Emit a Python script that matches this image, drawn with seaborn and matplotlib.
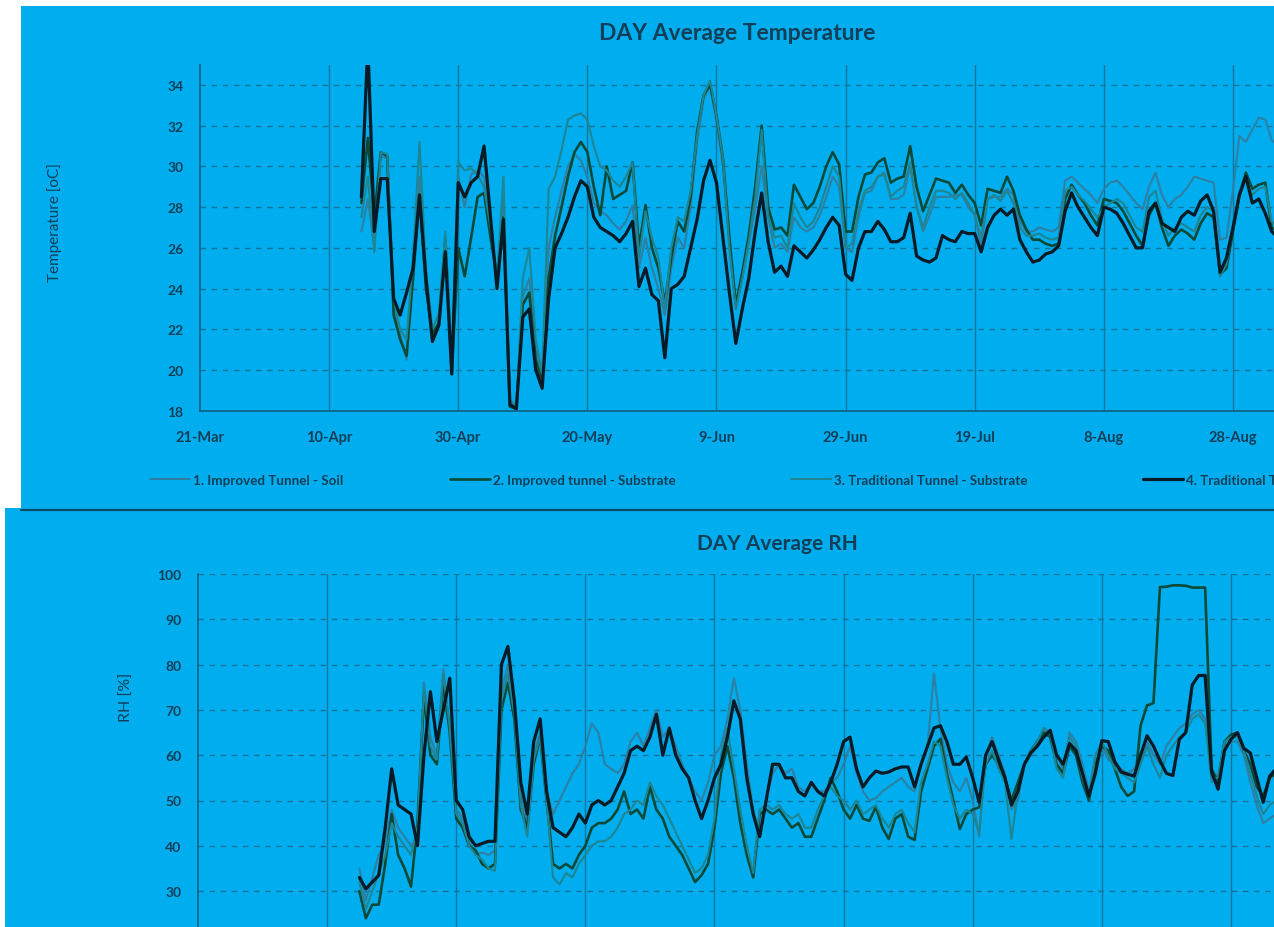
import numpy as np
import pandas as pd
import matplotlib
matplotlib.use("Agg")
import matplotlib.pyplot as plt
import matplotlib.dates as mdates
from matplotlib.patches import Rectangle
from matplotlib.lines import Line2D
from matplotlib.ticker import FuncFormatter
import seaborn as sns

# ---------------- data ----------------
series_names = [
    "1. Improved Tunnel - Soil",
    "2. Improved tunnel - Substrate",
    "3. Traditional Tunnel - Substrate",
    "4. Traditional Tunnel - Soil",
]
first_day = "2019-04-15"
tick_dates = ["2019-03-21", "2019-04-10", "2019-04-30", "2019-05-20", "2019-06-09",
              "2019-06-29", "2019-07-19", "2019-08-08", "2019-08-28"]

temp_improved_soil = [
    26.8, 28.4, 26.0, 30.5, 30.4, 23.0, 21.8, 20.5, 24.8, 29.5,
    24.3, 21.5, 22.4, 26.0, 20.2, 29.5, 28.0, 29.6, 29.8, 29.5,
    27.0, 24.2, 28.5, 18.4, 18.2, 23.6, 24.5, 21.0, 19.6, 26.0,
    27.5, 28.8, 30.0, 30.6, 30.3, 29.5, 28.2, 27.8, 27.6, 27.2,
    26.9, 27.3, 28.1, 25.0, 26.5, 25.0, 24.0, 22.7, 25.0, 26.5,
    26.0, 28.0, 31.2, 33.3, 34.0, 32.2, 30.0, 26.0, 23.0, 24.5,
    26.2, 28.0, 30.0, 27.5, 26.0, 26.2, 25.8, 27.5, 27.0, 26.8,
    27.0, 27.6, 28.5, 29.5, 29.0, 26.0, 25.8, 27.5, 28.7, 28.8,
    29.5, 29.7, 28.4, 28.4, 28.6, 30.0, 28.0, 26.8, 27.6, 28.5,
    28.5, 28.5, 28.6, 28.6, 28.0, 27.6, 26.1, 28.4, 28.5, 28.5,
    28.9, 28.6, 27.3, 26.8, 26.8, 27.0, 26.9, 26.8, 27.0, 29.3,
    29.5, 29.2, 28.9, 28.6, 28.2, 28.9, 29.2, 29.3, 29.0, 28.6,
    28.2, 27.9, 29.0, 29.7, 28.6, 28.0, 28.4, 28.6, 29.0, 29.5,
    29.4, 29.3, 29.2, 26.4, 26.5, 28.8, 31.5, 31.2, 31.8, 32.4,
    32.3, 31.3, 31.0,
]
temp_improved_substrate = [
    28.2, 31.4, 27.5, 30.7, 30.5, 22.7, 21.5, 20.7, 24.5, 28.5,
    24.0, 21.8, 22.3, 26.4, 19.9, 26.0, 24.6, 26.5, 28.5, 28.7,
    26.5, 24.6, 27.5, 18.2, 18.1, 23.2, 23.8, 20.5, 19.4, 24.5,
    26.6, 28.0, 29.5, 30.7, 31.2, 30.7, 29.0, 27.6, 30.0, 28.4,
    28.6, 28.8, 30.2, 26.0, 28.1, 26.0, 25.0, 23.3, 25.5, 27.3,
    26.8, 28.5, 31.7, 33.5, 34.0, 32.5, 30.4, 26.5, 23.2, 24.8,
    26.6, 29.0, 32.0, 28.0, 26.9, 27.0, 26.6, 29.1, 28.5, 27.9,
    28.2, 29.0, 30.0, 30.7, 30.1, 26.8, 26.8, 28.5, 29.6, 29.7,
    30.2, 30.4, 29.2, 29.4, 29.5, 31.0, 29.0, 27.8, 28.6, 29.4,
    29.3, 29.2, 28.7, 29.1, 28.6, 28.2, 27.1, 28.9, 28.8, 28.7,
    29.5, 28.8, 27.6, 26.9, 26.4, 26.4, 26.2, 26.1, 26.2, 28.4,
    29.1, 28.6, 28.2, 27.6, 27.1, 28.4, 28.3, 28.2, 27.8, 27.2,
    26.6, 26.1, 27.6, 28.2, 27.0, 26.1, 26.6, 26.9, 26.7, 26.4,
    27.2, 27.7, 27.5, 24.7, 25.0, 26.8, 28.6, 29.7, 28.9, 29.1,
    29.2, 27.0, 26.8,
]
temp_traditional_substrate = [
    27.5, 29.5, 25.8, 30.7, 30.6, 23.5, 22.0, 21.5, 25.5, 31.2,
    25.0, 22.0, 22.8, 26.8, 20.5, 30.2, 29.8, 29.9, 29.6, 29.0,
    27.0, 24.5, 29.5, 18.5, 18.3, 24.5, 26.0, 21.5, 19.8, 28.9,
    29.5, 30.8, 32.3, 32.5, 32.6, 32.3, 31.0, 30.0, 29.8, 29.3,
    29.0, 29.5, 30.2, 25.5, 27.8, 26.5, 25.5, 23.0, 26.0, 27.5,
    27.3, 28.8, 31.5, 33.5, 34.2, 32.5, 30.4, 26.0, 23.0, 24.5,
    26.3, 28.5, 31.8, 27.5, 26.5, 26.6, 26.0, 28.2, 27.5, 27.0,
    27.3, 28.0, 29.0, 30.0, 29.5, 26.0, 26.2, 27.8, 28.8, 29.0,
    29.5, 29.6, 28.5, 28.8, 29.0, 30.2, 28.0, 27.0, 28.0, 28.8,
    28.8, 28.7, 28.4, 28.7, 28.2, 27.6, 26.5, 28.4, 28.6, 28.3,
    28.8, 28.2, 27.0, 26.6, 26.6, 26.7, 26.5, 26.4, 26.5, 28.8,
    29.0, 28.6, 28.3, 27.9, 27.5, 28.0, 28.2, 28.4, 28.2, 27.6,
    27.0, 26.8, 28.5, 28.8, 27.4, 26.6, 27.0, 27.2, 27.0, 26.8,
    27.6, 28.0, 27.8, 24.6, 25.2, 27.0, 28.8, 29.4, 28.6, 28.9,
    29.0, 27.3, 27.0,
]
temp_traditional_soil = [
    28.5, 36.0, 26.8, 29.4, 29.4, 23.5, 22.7, 23.8, 25.0, 28.6,
    24.5, 21.4, 22.2, 25.8, 19.8, 29.2, 28.5, 29.2, 29.5, 31.0,
    27.5, 24.0, 27.4, 18.3, 18.1, 22.6, 23.0, 20.0, 19.1, 23.5,
    26.0, 26.7, 27.5, 28.5, 29.3, 29.0, 27.5, 27.0, 26.8, 26.6,
    26.3, 26.7, 27.3, 24.1, 25.0, 23.7, 23.4, 20.6, 24.0, 24.2,
    24.6, 26.0, 27.4, 29.3, 30.3, 29.2, 26.5, 23.8, 21.3, 23.0,
    24.5, 26.8, 28.7, 26.3, 24.8, 25.1, 24.6, 26.1, 25.8, 25.5,
    25.9, 26.4, 27.0, 27.5, 27.1, 24.7, 24.4, 26.0, 26.8, 26.8,
    27.3, 26.9, 26.3, 26.3, 26.5, 27.7, 25.6, 25.4, 25.3, 25.5,
    26.6, 26.4, 26.3, 26.8, 26.7, 26.7, 25.8, 27.0, 27.6, 27.9,
    27.6, 27.9, 26.4, 25.8, 25.3, 25.4, 25.7, 25.8, 26.1, 27.8,
    28.7, 28.0, 27.5, 27.0, 26.6, 28.0, 27.9, 27.7, 27.2, 26.6,
    26.0, 26.0, 27.8, 28.2, 27.2, 27.0, 26.8, 27.5, 27.8, 27.6,
    28.3, 28.6, 27.8, 24.8, 25.5, 27.0, 28.6, 29.5, 28.2, 28.4,
    27.7, 26.8, 26.5,
]

rh_improved_soil = [
    35, 28, 33, 38, 40, 48, 44, 42, 40, 42,
    76, 64, 60, 79, 66, 48, 46, 41, 38, 38.5,
    38, 39, 74, 80, 70, 50, 45, 60, 65, 52,
    47, 50, 53, 56, 58, 62, 67, 65, 58, 57,
    56, 58, 63, 65, 62, 66, 70, 64, 66, 62,
    58, 55, 52, 50, 54, 60, 62, 68, 77, 70,
    58, 48, 42, 50, 56, 58, 56, 57, 53, 52,
    54, 52, 52, 54, 55, 58, 62, 56, 52, 50,
    50.5, 52, 53, 54, 55, 53, 52, 58, 62, 78,
    66, 58, 54, 52, 55, 50, 42, 60, 64, 60,
    56, 48, 50, 58, 60, 62, 66, 64, 60, 57,
    65, 63, 58, 52, 60, 62, 59, 58, 57, 56,
    57, 59, 63, 60, 58, 62, 64, 66, 67, 69,
    70, 68, 54, 56, 62, 63, 63, 60, 54, 49,
    45, 46, 47,
]
rh_improved_substrate = [
    30, 24, 27, 27, 36, 47, 38, 35, 31, 45,
    73, 60, 58, 76, 65, 46, 44, 40, 39, 36,
    35, 36, 70, 76, 68, 48, 44, 58, 64, 50,
    36, 35, 36, 35, 38, 40, 44, 45, 45, 46,
    48, 52, 47, 48, 46, 53, 48, 46, 42, 40,
    38, 35, 32, 33.5, 36, 44, 56, 62, 55, 45,
    38, 33, 47, 48, 47, 48, 46, 44, 45, 42,
    42, 46, 50, 55, 52, 48, 46, 49, 46, 45.5,
    48.6, 44, 41.5, 46, 47, 42, 41.3, 52, 57, 62,
    63.6, 56, 50, 43.7, 47, 48, 48.5, 58, 60, 58,
    55, 50, 54, 58, 61, 63, 65, 64, 58, 56,
    62, 60, 54, 50, 58, 62, 61, 57, 53, 51,
    52, 66.5, 71, 71.5, 97.1, 97.2, 97.5, 97.5, 97.4, 97,
    97, 97, 57, 54, 63, 64.5, 65, 61, 58, 53,
    51, 55, 56,
]
rh_traditional_substrate = [
    32, 26, 30, 34, 38, 45, 42, 40, 38, 44,
    75, 62, 59, 78, 66, 47, 45, 40, 38, 37,
    35, 34.5, 72, 78, 69, 49, 42, 59, 64, 50,
    33, 31.5, 34, 33, 36, 38, 40, 41, 41, 42,
    44, 47, 48, 50, 49, 54, 51, 49, 46, 43,
    40, 37, 34, 35, 38, 46, 60, 66, 57, 48,
    40, 34, 48, 49, 48, 49, 47, 46, 47, 44,
    44, 48, 51, 53, 51, 50, 48, 50, 47, 48,
    49, 46, 44, 47, 48, 45, 43, 54, 58, 63,
    62, 55, 49, 46, 48, 47, 43, 58, 61, 57,
    54, 41.5, 52, 58, 61, 63, 66, 65, 57, 55,
    64, 62, 55, 51, 60, 63, 60, 57, 56, 55,
    54, 58, 62, 58, 55, 60, 62, 64, 65, 68,
    69, 67, 55, 55, 63, 64, 64, 61, 56, 51,
    47, 49, 50,
]
rh_traditional_soil = [
    33, 30.5, 32, 33.5, 44, 57, 49, 48, 47, 40,
    60, 74, 63, 70, 77, 50, 48, 42, 40, 40.5,
    41, 41, 80, 84, 72, 54, 47, 63, 68, 52,
    44, 43, 42, 44, 47, 45, 49, 50, 49, 50,
    53, 56, 61, 62, 61, 64, 69, 60, 66, 60,
    57, 55, 50, 46, 50, 55, 58, 64, 72, 68,
    55, 47, 42, 50, 58, 58, 55, 55, 52, 51,
    54, 52, 51, 54, 58, 63, 64, 57, 53, 55,
    56.5, 56, 56.3, 57, 57.4, 57.4, 53, 58, 62, 66,
    66.5, 63, 58, 58, 59.6, 55, 49.6, 60, 63, 59,
    55, 49, 52, 58, 60.5, 62, 64, 65.5, 60, 58,
    62.6, 61, 56, 51, 56, 63.2, 63, 58.6, 56.3, 55.8,
    55.4, 60, 64.3, 62, 58.8, 56, 55.5, 63.5, 65, 75.5,
    77.6, 77.6, 56.3, 52.5, 61, 63.5, 65, 61.5, 60.5, 55,
    49.6, 55.4, 57,
]

# ---------------- styling ----------------
W, H = 1274, 928
panel_blue = "#00aeef"
ink = "#123f57"
grid_col = "#13759a"
spine_col = "#0d5f80"
palette = {
    series_names[0]: "#2d7fa3",
    series_names[1]: "#0b4a38",
    series_names[2]: "#1e8592",
    series_names[3]: "#071a25",
}
widths = {
    series_names[0]: 1.5,
    series_names[1]: 1.9,
    series_names[2]: 1.5,
    series_names[3]: 2.3,
}

sns.set_theme(style="white")
plt.rcParams["font.family"] = ["Lato", "DejaVu Sans"]
plt.rcParams["axes.facecolor"] = "none"

dates = pd.date_range(first_day, periods=len(temp_traditional_soil), freq="D")


def long_frame(cols):
    frames = []
    for name, vals in zip(series_names, cols):
        frames.append(pd.DataFrame({"date": dates, "value": vals, "series": name}))
    return pd.concat(frames, ignore_index=True)


temp_df = long_frame([temp_improved_soil, temp_improved_substrate,
                      temp_traditional_substrate, temp_traditional_soil])
rh_df = long_frame([rh_improved_soil, rh_improved_substrate,
                    rh_traditional_substrate, rh_traditional_soil])

fig = plt.figure(figsize=(W / 100, H / 100), dpi=100, facecolor="white")


def fx(px):
    return px / W


def fy(py):
    return 1 - py / H


# panel backgrounds
fig.add_artist(Rectangle((fx(21), fy(509)), fx(W - 21), (509 - 7) / H,
                         transform=fig.transFigure, facecolor=panel_blue,
                         edgecolor="none", zorder=-10))
fig.add_artist(Rectangle((fx(5), fy(H)), fx(W - 5), (H - 509) / H,
                         transform=fig.transFigure, facecolor=panel_blue,
                         edgecolor="none", zorder=-10))
fig.add_artist(Line2D([fx(21), 1.0], [fy(510.5), fy(510.5)],
                      transform=fig.transFigure, color="#0a4c68", lw=1.6))

px_per_day = 6.456
start = pd.Timestamp(tick_dates[0])
ticks = pd.to_datetime(tick_dates)


def style_axes(ax, left_px, top_px, bottom_px, ylo, yhi, yticks, show_dates):
    width_px = W - left_px
    ax.set_position([fx(left_px), fy(bottom_px), width_px / W, (bottom_px - top_px) / H])
    ax.set_xlim(start, start + pd.Timedelta(days=width_px / px_per_day))
    ax.set_ylim(ylo, yhi)
    ax.set_yticks(yticks)
    ax.set_xticks(ticks)
    ax.xaxis.set_major_formatter(
        FuncFormatter(lambda v, p: (lambda d: f"{d.day}-{d.strftime('%b')}")(mdates.num2date(v))))
    ax.grid(False)
    for y in yticks:
        ax.axhline(y, color=grid_col, lw=1.0, ls=(0, (4, 4)), zorder=0)
    for t in ticks[1:]:
        ax.axvline(t, color=grid_col, lw=1.0, zorder=0)
    for s in ["top", "right"]:
        ax.spines[s].set_visible(False)
    for s in ["left", "bottom"]:
        ax.spines[s].set_color(spine_col)
        ax.spines[s].set_linewidth(1.2)
    ax.tick_params(axis="both", length=0, colors=ink, labelsize=10)
    ax.tick_params(axis="y", pad=12)
    ax.tick_params(axis="x", pad=14, labelsize=10.5)
    for lab in ax.get_xticklabels() + ax.get_yticklabels():
        lab.set_fontweight("bold")
    if not show_dates:
        ax.tick_params(axis="x", labelbottom=False)
    ax.set_xlabel("")
    ax.set_ylabel("")


# temperature panel
ax_t = fig.add_axes([0, 0, 1, 1])
sns.lineplot(data=temp_df, x="date", y="value", hue="series", size="series",
             palette=palette, sizes=widths, hue_order=series_names,
             size_order=series_names, legend=False, ax=ax_t, zorder=3)
style_axes(ax_t, 200, 65.6, 411.7, 18, 35, list(range(18, 35, 2)), True)

# relative humidity panel
ax_r = fig.add_axes([0, 0, 1, 1])
sns.lineplot(data=rh_df, x="date", y="value", hue="series", size="series",
             palette=palette, sizes=widths, hue_order=series_names,
             size_order=series_names, legend=False, ax=ax_r, zorder=3)
style_axes(ax_r, 198, 575, 937.4, 20, 100, list(range(30, 101, 10)), False)

# titles and axis labels
fig.text(fx(737), fy(34), "DAY Average Temperature", ha="center", va="center",
         fontsize=16.5, fontweight="bold", color=ink)
fig.text(fx(777), fy(544), "DAY Average RH", ha="center", va="center",
         fontsize=15, fontweight="bold", color=ink)
fig.text(fx(55), fy(223), "Temperature [oC]", rotation=90, ha="center", va="center",
         fontsize=11, color=ink)
fig.text(fx(127), fy(697), "RH [%]", rotation=90, ha="center", va="center",
         fontsize=11.5, color=ink)

# legend: one entry per column, spread across the temperature panel
handles = ax_t.get_lines()[:4]
legend_x = [150, 450, 791, 1143]
for h, name, x0 in zip(handles, series_names, legend_x):
    proxy = Line2D([], [], color=h.get_color(), lw=h.get_linewidth())
    leg = fig.legend([proxy], [name], loc="center left",
                     bbox_to_anchor=(fx(x0), fy(481)), frameon=False,
                     fontsize=9.6, handlelength=3.0, handletextpad=0.2,
                     borderpad=0, borderaxespad=0, labelcolor=ink)
    for txt in leg.get_texts():
        txt.set_fontweight("bold")

fig.savefig("out.png", dpi=100, facecolor="white")
